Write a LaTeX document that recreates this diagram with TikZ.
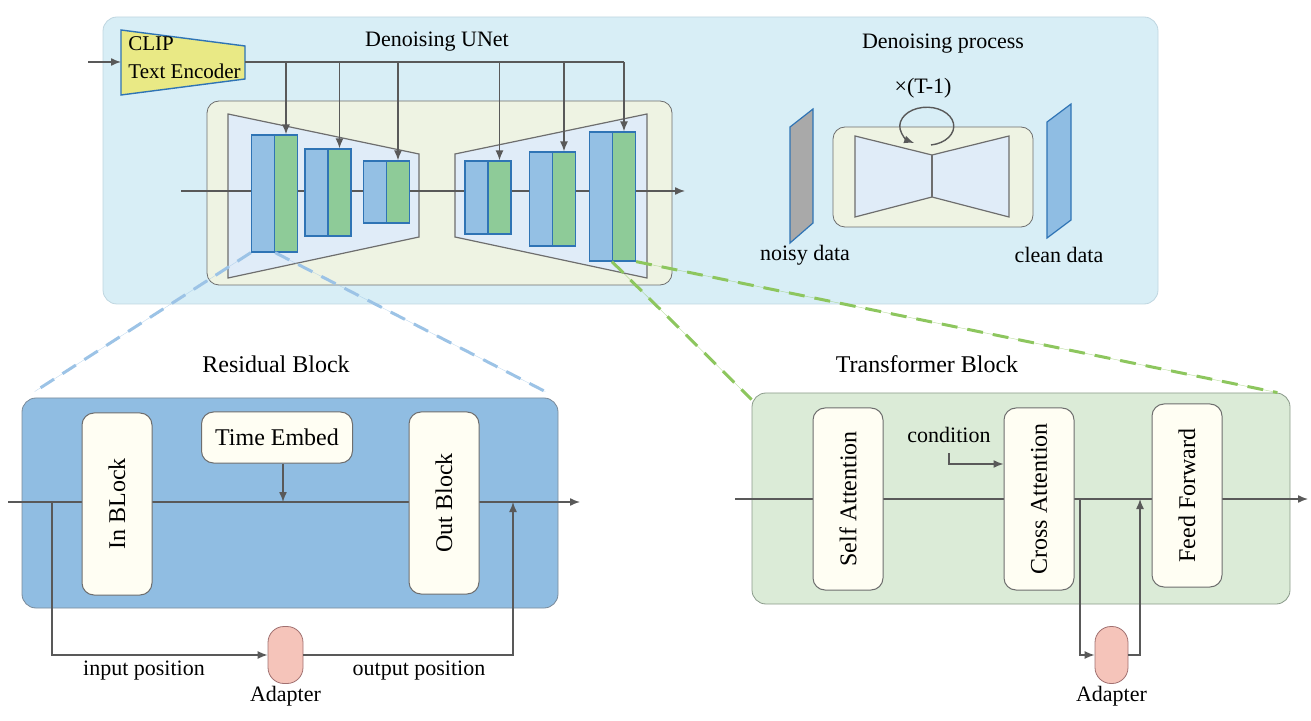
\documentclass[tikz,border=0pt]{standalone}
\usepackage{fontspec}
\setmainfont{Liberation Serif}
\setsansfont{Liberation Serif}
\usepackage{tikz}
\usetikzlibrary{arrows.meta}

\definecolor{topbg}{HTML}{D8EEF6}
\definecolor{topedge}{HTML}{BFD6E0}
\definecolor{unetbg}{HTML}{EEF3E3}
\definecolor{edgegray}{HTML}{6E6E6E}
\definecolor{trapfill}{HTML}{E0ECF8}
\definecolor{bluelayer}{HTML}{94C0E4}
\definecolor{greenlayer}{HTML}{8ECB98}
\definecolor{layeredge}{HTML}{2F74B5}
\definecolor{clipfill}{HTML}{E9E985}
\definecolor{resfill}{HTML}{90BDE2}
\definecolor{resedge}{HTML}{7A8A99}
\definecolor{transfill}{HTML}{DBEBD7}
\definecolor{transedge}{HTML}{8A9A8A}
\definecolor{cream}{HTML}{FFFEF3}
\definecolor{adaptfill}{HTML}{F5C4BA}
\definecolor{adaptedge}{HTML}{A07070}
\definecolor{noisyfill}{HTML}{A9A9A9}
\definecolor{cleanfill}{HTML}{8FBDE3}
\definecolor{dashblue}{HTML}{9CC3E6}
\definecolor{dashgreen}{HTML}{8DC65E}
\definecolor{linegray}{HTML}{595959}

\tikzset{
  wire/.style = {draw=linegray, line width=0.7pt},
  flow/.style = {wire, -{Latex[length=5pt, width=4pt]}},
  layer/.style = {draw=layeredge, line width=0.6pt, minimum width=11.5pt, inner sep=0pt},
  unit/.style = {draw=edgegray, fill=cream, rounded corners=6pt, inner sep=0pt, line width=0.5pt, font=\rmfamily\fontsize{12}{14}\selectfont},
  adapter/.style = {draw=adaptedge, fill=adaptfill, rounded corners=8pt, minimum width=17.5pt, minimum height=28.5pt, inner sep=0pt},
  caption/.style = {font=\rmfamily\fontsize{11}{13}\selectfont, inner sep=1pt},
  title/.style = {font=\rmfamily\fontsize{12}{14}\selectfont},
  zoomline/.style = {line width=1.5pt, dash pattern=on 8pt off 5pt, postaction={draw, solid, line width=0.2pt, draw opacity=0.6}},
}

\begin{document}
\begin{tikzpicture}[x = 0.5pt , y = -0.5pt , font = \rmfamily\fontsize{11}{13}\selectfont]
    \useasboundingbox (0,0) rectangle (1311,721);
    % upper panel
    \node[draw=topedge, fill=topbg, rounded corners=7pt, minimum width=527.5pt, minimum height=143.5pt, inner sep=0pt] (top) at (630.5,160.5) {};

    % CLIP text encoder
    \filldraw[fill=clipfill, draw=layeredge, line width=0.7pt] (121,30) -- (245,46) -- (245,79) -- (121,95) -- cycle;
    \coordinate (clipin) at (88,62);
    \coordinate (clipl) at (121,62);
    \coordinate (clipr) at (245,62);
    \node[anchor=west, align=left, inner sep=0pt, font=\rmfamily\fontsize{10.5}{14}\selectfont] (clip) at (128,58) {CLIP\\Text Encoder};
    \draw[flow] (clipin) -- (clipl);

    % Denoising UNet
    \node (unettitle) at (437,42) {Denoising UNet};
    \node[draw=edgegray, fill=unetbg, rounded corners=6pt, minimum width=232.5pt, minimum height=92pt, inner sep=0pt] (unet) at (439.5,193) {};
    \filldraw[fill=trapfill, draw=edgegray, line width=0.6pt] (228,114) -- (419,154) -- (419,237) -- (228,278) -- cycle; % encoder
    \filldraw[fill=trapfill, draw=edgegray, line width=0.6pt] (455,154) -- (647,114) -- (647,278) -- (455,237) -- cycle; % decoder
    \coordinate (uin) at (181,191);
    \coordinate (uout) at (685,191);
    \draw[flow] (uin) -- (uout);

    \node[layer, fill=bluelayer, minimum height=58.5pt] (b1) at (263,193.5) {};
    \node[layer, fill=greenlayer, minimum height=58.5pt] (g1) at (286,193.5) {};
    \node[layer, fill=bluelayer, minimum height=43.5pt] (b2) at (316.5,192.5) {};
    \node[layer, fill=greenlayer, minimum height=43.5pt] (g2) at (339.5,192.5) {};
    \node[layer, fill=bluelayer, minimum height=31pt] (b3) at (375,192) {};
    \node[layer, fill=greenlayer, minimum height=31pt] (g3) at (398,192) {};
    \node[layer, fill=bluelayer, minimum height=36.5pt] (b4) at (476.5,197.5) {};
    \node[layer, fill=greenlayer, minimum height=36.5pt] (g4) at (499.5,197.5) {};
    \node[layer, fill=bluelayer, minimum height=47pt] (b5) at (541,199) {};
    \node[layer, fill=greenlayer, minimum height=47pt] (g5) at (564,199) {};
    \node[layer, fill=bluelayer, minimum height=64.5pt] (b6) at (601,196.5) {};
    \node[layer, fill=greenlayer, minimum height=64.5pt] (g6) at (624,196.5) {};

    % text condition to the layers
    \draw[wire] (clipr) -- (clipr -| g6.north);
    \draw[flow] (clipr -| g1.north) -- (g1.north);
    \draw[flow] (clipr -| g2.north) -- (g2.north);
    \draw[flow] (clipr -| g3.north) -- (g3.north);
    \draw[flow] (clipr -| g4.north) -- (g4.north);
    \draw[flow] (clipr -| g5.north) -- (g5.north);
    \draw[flow] (clipr -| g6.north) -- (g6.north);

    % Denoising process
    \node (proctitle) at (943,44) {Denoising process};
    \node[draw=edgegray, fill=unetbg, rounded corners=6pt, minimum width=100pt, minimum height=50pt, inner sep=0pt] (proc) at (933,177) {};
    \filldraw[fill=trapfill, draw=edgegray, line width=0.6pt] (855,136) -- (932,155) -- (1009,136) -- (1009,217) -- (932,197) -- (855,217) -- cycle;
    \draw[draw=edgegray, line width=0.6pt] (932,155) -- (932,197);
    \draw[flow] (931,145) arc[start angle=81, end angle=-242, x radius=27, y radius=19]; % loop
    \node (steps) at (923,88) {×(T-1)};
    \filldraw[fill=noisyfill, draw=layeredge, line width=0.6pt] (790,127) -- (813,109) -- (813,223) -- (790,243) -- cycle;
    \filldraw[fill=cleanfill, draw=layeredge, line width=0.6pt] (1047,122) -- (1071,104) -- (1071,220) -- (1047,238) -- cycle;
    \node (noisy) at (805,255) {noisy data};
    \node (clean) at (1059,255) {clean data};

    % Residual Block
    \node[title] (restitle) at (276,364) {Residual Block};
    \node[draw=resedge, fill=resfill, rounded corners=7pt, minimum width=268pt, minimum height=105pt, inner sep=0pt] (res) at (290,503) {};
    \coordinate (rin) at (8,502);
    \coordinate (rout) at (580,502);
    \draw[flow] (rin) -- (rout);
    \node[unit, rotate=90, minimum width=91pt, minimum height=35pt] (inb) at (117,504) {In BLock};
    \node[unit, minimum width=75.5pt, minimum height=25.5pt] (temb) at (277,437.5) {Time Embed};
    \node[unit, rotate=90, minimum width=91pt, minimum height=35pt] (outb) at (444,503) {Out Block};
    \draw[flow] ([xshift=3pt]temb.south) -- ([xshift=3pt]temb.south |- rin);
    \node[adapter] (rad) at (285.5,655) {};
    \node[caption, below] (radlabel) at (rad.south) {Adapter};
    \coordinate (rsplit) at (52,502);
    \coordinate (rjoin) at (513,502);
    \draw[flow] (rsplit) |- (rad.west);
    \draw[flow] (rad.east) -| (rjoin);
    \node[caption] (inpos) at (144,671) {input position};
    \node[caption] (outpos) at (419,671) {output position};

    % Transformer Block
    \node[title] (transtitle) at (927,364) {Transformer Block};
    \node[draw=transedge, fill=transfill, rounded corners=7pt, minimum width=269pt, minimum height=105.5pt, inner sep=0pt] (trans) at (1021,498.5) {};
    \coordinate (tin) at (735,499);
    \coordinate (tout) at (1308,499);
    \draw[flow] (tin) -- (tout);
    \node[unit, rotate=90, minimum width=91pt, minimum height=35pt] (selfatt) at (848,499) {Self Attention};
    \node[unit, rotate=90, minimum width=91pt, minimum height=35pt] (crossatt) at (1039,499) {Cross Attention};
    \node[unit, rotate=90, minimum width=91.5pt, minimum height=35pt] (ffwd) at (1187,495.5) {Feed Forward};
    \node[caption] (cond) at (949,435) {condition};
    \draw[flow] ([yshift=-4pt]cond.south) |- ([yshift=17.5pt]crossatt.north);
    \node[adapter, minimum width=16.5pt] (tad) at (1111.5,655) {};
    \node[caption, below] (tadlabel) at (tad.south) {Adapter};
    \coordinate (tsplit) at (1080,499);
    \coordinate (tjoin) at (1140,499);
    \draw[flow] (tsplit) |- (tad.west);
    \draw[flow] (tad.east) -| (tjoin);

    % zoom lines
    \draw[dashblue, zoomline] (b1.south west) -- ([xshift=6.5pt, yshift=3pt]res.north west);
    \draw[dashblue, zoomline] (b1.south east) -- ([xshift=-6.5pt, yshift=3pt]res.north east);
    \draw[dashgreen, zoomline] (g6.south west) -- ([yshift=-3.5pt]trans.north west);
    \draw[dashgreen, zoomline] (g6.south east) -- ([xshift=-6.5pt]trans.north east);
\end{tikzpicture}
\end{document}
